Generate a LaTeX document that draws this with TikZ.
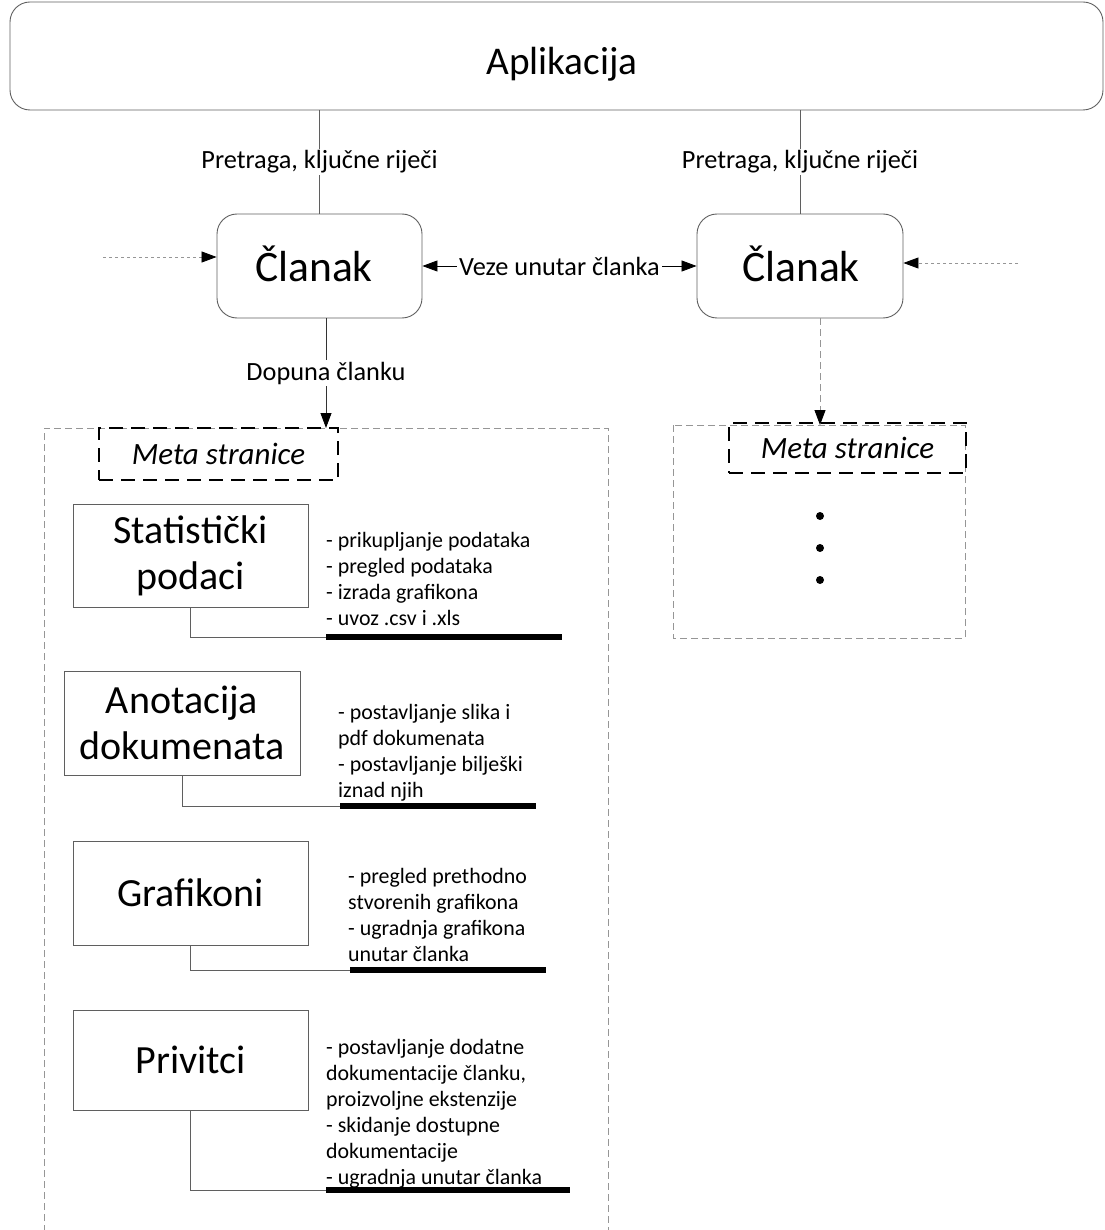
\documentclass[tikz,border=0pt]{standalone}
\usepackage{fontspec}
\setmainfont{Carlito}
\usetikzlibrary{arrows.meta}
\definecolor{bord}{RGB}{95,95,95}
\definecolor{dashg}{RGB}{150,150,150}
\begin{document}
\begin{tikzpicture}[x=1pt,y=-1pt,
  tipend/.style={-{Triangle[length=15pt,width=11pt,color=black]}},
  roundbox/.style={draw=bord, rounded corners=20pt, line width=0.9pt, inner sep=0pt},
  featbox/.style={draw=bord, line width=0.9pt, align=center, inner sep=0pt, font=\fontsize{40}{46}\selectfont},
  lbl/.style={fill=white, text=black, inner sep=2pt, font=\fontsize{26.3}{30}\selectfont},
  metabox/.style={draw=black, line width=1.8pt, dash pattern=on 14pt off 8pt, inner sep=0pt, font=\fontsize{31}{34}\selectfont\itshape},
  listtxt/.style={align=left, anchor=north west, inner sep=0pt, font=\fontsize{21.9}{26}\selectfont},
  uline/.style={line width=5.5pt},
  dotline/.style={draw=dashg, line width=0.8pt, dash pattern=on 3pt off 3pt},
  contline/.style={draw=dashg, line width=0.9pt, dash pattern=on 7pt off 4pt},
  dotmark/.style={circle, fill=black, inner sep=0pt, minimum size=8pt}
]
\useasboundingbox (0,0) rectangle (1104,1230);

% top application box
\node[roundbox, minimum width=1093pt, minimum height=108pt] (apl) at (556.5,56) {};
\node[font=\fontsize{39.3}{44}\selectfont, inner sep=0pt] (aplt) at (562,64) {Aplikacija};

% articles
\node[roundbox, minimum width=205pt, minimum height=104pt] (cl1) at (319.5,266) {};
\node[roundbox, minimum width=206pt, minimum height=104pt] (cl2) at (800,266) {};
\node[font=\fontsize{43.5}{48}\selectfont, inner sep=0pt] (cl1t) at (314,264) {Članak};
\node[font=\fontsize{43.5}{48}\selectfont, inner sep=0pt] (cl2t) at (801,264) {Članak};

\draw[bord, line width=0.8pt] (apl.south -| cl1.north) -- (cl1.north) node[lbl, midway] {Pretraga, ključne riječi};
\draw[bord, line width=0.8pt] (apl.south -| cl2.north) -- (cl2.north) node[lbl, midway] {Pretraga, ključne riječi};

\draw[{Triangle[length=15pt,width=11pt]}-{Triangle[length=15pt,width=11pt]}, line width=0.8pt] (cl1.east) -- (cl2.west) node[lbl, midway] {Veze unutar članka};

% incoming dotted arrows
\coordinate (inL) at (103,257);
\coordinate (inR) at (1018,263);
\draw[dotline, tipend] (inL) -- (inL -| cl1.west);
\draw[dotline, tipend] (inR) -- (inR -| cl2.east);

% containers
\draw[contline] (44,1232) -- (44,428) -- (608,428) -- (608,1232);
\draw[contline] (673,425) rectangle (965,638);

% meta boxes
\node[metabox, minimum width=239pt, minimum height=52pt] (meta1) at (218.5,454) {Meta stranice};
\node[metabox, minimum width=237pt, minimum height=50pt] (meta2) at (847.5,448) {Meta stranice};

% down arrows
\coordinate (d1top) at (326,318);
\coordinate (d1bot) at (326,428);
\draw[tipend, draw=black!80, line width=0.8pt] (d1top) -- (d1bot) node[lbl, midway] {Dopuna članku};
\coordinate (d2top) at (820,318);
\coordinate (d2bot) at (820,425);
\draw[tipend, draw=dashg, line width=0.9pt, dash pattern=on 7pt off 4pt] (d2top) -- (d2bot);

% dots
\node[dotmark] (p1) at (820,516) {};
\node[dotmark] (p2) at (820,548) {};
\node[dotmark] (p3) at (820,580) {};

% feature boxes
\node[featbox, minimum width=235pt, minimum height=103pt] (stat) at (190.5,556) {Statistički\\podaci};
\node[featbox, minimum width=236pt, minimum height=104pt] (anot) at (182,723) {Anotacija\\dokumenata};
\node[featbox, minimum width=235pt, minimum height=104pt] (graf) at (190.5,893) {Grafikoni};
\node[featbox, minimum width=235pt, minimum height=100pt] (priv) at (190.5,1060) {Privitci};

% lists
\node[listtxt] (l1) at (326,529) {\strut- prikupljanje podataka\\- pregled podataka\\- izrada grafikona\\- uvoz .csv i .xls};
\node[listtxt] (l2) at (338,701) {\strut- postavljanje slika i\\pdf dokumenata\\- postavljanje bilješki\\iznad njih};
\node[listtxt] (l3) at (348,865) {\strut- pregled prethodno\\stvorenih grafikona\\- ugradnja grafikona\\unutar članka};
\node[listtxt] (l4) at (326,1036) {\strut- postavljanje dodatne\\dokumentacije članku,\\proizvoljne ekstenzije\\- skidanje dostupne\\dokumentacije\\- ugradnja unutar članka};

% underlines and connectors
\coordinate (u1a) at (326,637); \coordinate (u1b) at (562,637);
\coordinate (u2a) at (340,806); \coordinate (u2b) at (536,806);
\coordinate (u3a) at (350,970); \coordinate (u3b) at (546,970);
\coordinate (u4a) at (326,1190); \coordinate (u4b) at (570,1190);
\draw[bord, line width=0.8pt] (stat.south) |- (u1a);
\draw[bord, line width=0.8pt] (anot.south) |- (u2a);
\draw[bord, line width=0.8pt] (graf.south) |- (u3a);
\draw[bord, line width=0.8pt] (priv.south) |- (u4a);
\draw[uline] (u1a) -- (u1b);
\draw[uline] (u2a) -- (u2b);
\draw[uline] (u3a) -- (u3b);
\draw[uline] (u4a) -- (u4b);
\end{tikzpicture}
\end{document}
